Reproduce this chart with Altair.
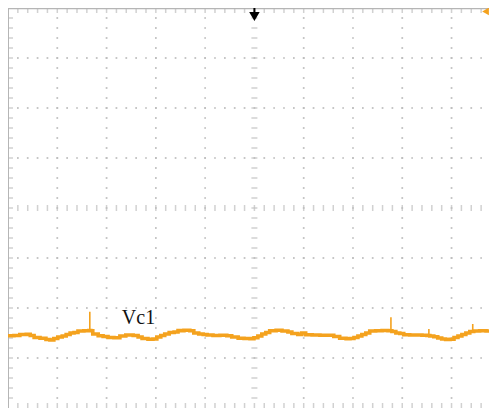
import altair as alt
import numpy as np
import pandas as pd

# ---- trace data (time in divisions, voltage in divisions from bottom) ----
trace_t = [0.00, 0.12, 0.24, 0.37, 0.45, 0.53, 0.65, 0.77, 0.85, 0.93, 1.01, 1.10, 1.18, 1.26, 1.34, 1.42,
           1.54, 1.64, 1.68, 1.72, 1.83, 1.93, 2.03, 2.15, 2.27, 2.39, 2.54, 2.64, 2.72, 2.84, 2.94, 3.02,
           3.10, 3.18, 3.27, 3.37, 3.45, 3.57, 3.69, 3.77, 3.87, 3.96, 4.04, 4.16, 4.30, 4.44, 4.54, 4.67,
           4.79, 4.91, 4.99, 5.07, 5.15, 5.23, 5.31, 5.44, 5.56, 5.68, 5.76, 5.88, 5.96, 6.04, 6.17, 6.33,
           6.49, 6.61, 6.73, 6.86, 6.94, 7.02, 7.10, 7.18, 7.26, 7.34, 7.46, 7.59, 7.71, 7.79, 7.87, 7.95,
           8.03, 8.15, 8.28, 8.40, 8.50, 8.56, 8.64, 8.72, 8.80, 8.88, 8.97, 9.05, 9.13, 9.21, 9.29, 9.37,
           9.45, 9.57, 9.70, 9.82, 9.92]
trace_v = [1.446, 1.45, 1.47, 1.474, 1.45, 1.41, 1.394, 1.37, 1.36, 1.39, 1.42, 1.44, 1.47, 1.50, 1.51, 1.54,
           1.544, 1.548, 1.544, 1.48, 1.446, 1.43, 1.41, 1.404, 1.44, 1.46, 1.45, 1.42, 1.39, 1.376, 1.38, 1.42,
           1.45, 1.48, 1.51, 1.52, 1.548, 1.554, 1.544, 1.50, 1.48, 1.47, 1.46, 1.45, 1.454, 1.444, 1.42, 1.396,
           1.39, 1.388, 1.404, 1.44, 1.48, 1.51, 1.544, 1.554, 1.54, 1.52, 1.49, 1.47, 1.50, 1.464, 1.46, 1.456,
           1.454, 1.43, 1.396, 1.384, 1.39, 1.41, 1.44, 1.47, 1.50, 1.54, 1.546, 1.55, 1.544, 1.53, 1.50, 1.49,
           1.464, 1.46, 1.46, 1.456, 1.45, 1.44, 1.424, 1.40, 1.38, 1.37, 1.376, 1.41, 1.44, 1.47, 1.50, 1.53,
           1.54, 1.544, 1.54, 1.536, 1.54]

# ---- spikes on the trace ----
spike_t = [1.66, 7.77, 8.54, 9.43, 9.88]
spike_top = [1.926, 1.814, 1.58, 1.68, 1.96]
spike_base = [1.54, 1.54, 1.45, 1.54, 1.54]

# ---- label ----
label_text = ["Vc1"]
label_t = [2.31]
label_v = [1.69]

# ---- screen graticule ----
n_div_x = 10
n_div_y = 8
minor_step = 0.2
x_max = 9.76   # visible part of the 10-division screen

COL_TRACE = "#F4A21E"
COL_GRID = "#bdbdbd"

xs = alt.Scale(domain=[0, x_max], nice=False, zero=False)
ys = alt.Scale(domain=[0, n_div_y], nice=False, zero=False)

minor_x = np.round(np.arange(minor_step, x_max, minor_step), 2)
minor_y = np.round(np.arange(minor_step, n_div_y, minor_step), 2)

# dotted major grid lines
dots = []
for gx in range(1, n_div_x):
    if gx == n_div_x // 2:
        continue
    for yv in minor_y:
        dots.append({"x": gx, "y": float(yv)})
for gy in range(1, n_div_y):
    if gy == n_div_y // 2:
        continue
    for xv in minor_x:
        dots.append({"x": float(xv), "y": gy})
dots_df = pd.DataFrame(dots)

dot_layer = alt.Chart(dots_df).mark_square(size=3, color=COL_GRID, opacity=1).encode(
    x=alt.X("x:Q", scale=xs, axis=None), y=alt.Y("y:Q", scale=ys, axis=None))

# center vertical line ticks (horizontal dashes)
cv_df = pd.DataFrame({"x": n_div_x / 2, "y": minor_y})
cv_layer = alt.Chart(cv_df).mark_tick(orient="horizontal", size=6, thickness=1.5, color=COL_GRID).encode(
    x=alt.X("x:Q", scale=xs, axis=None), y=alt.Y("y:Q", scale=ys, axis=None))

# center horizontal line ticks (vertical dashes)
ch_df = pd.DataFrame({"x": minor_x, "y": n_div_y / 2})
ch_layer = alt.Chart(ch_df).mark_tick(orient="vertical", size=6, thickness=1.5, color=COL_GRID).encode(
    x=alt.X("x:Q", scale=xs, axis=None), y=alt.Y("y:Q", scale=ys, axis=None))

# edge ticks
top_df = pd.DataFrame({"x": minor_x, "y": float(n_div_y)})
top_layer = alt.Chart(top_df).mark_tick(orient="vertical", size=5, thickness=1.5, color=COL_GRID, yOffset=2.5).encode(
    x=alt.X("x:Q", scale=xs, axis=None), y=alt.Y("y:Q", scale=ys, axis=None))
bot_df = pd.DataFrame({"x": minor_x, "y": 0.0})
bot_layer = alt.Chart(bot_df).mark_tick(orient="vertical", size=5, thickness=1.5, color=COL_GRID, yOffset=-2.5).encode(
    x=alt.X("x:Q", scale=xs, axis=None), y=alt.Y("y:Q", scale=ys, axis=None))
left_df = pd.DataFrame({"x": 0.0, "y": minor_y})
left_layer = alt.Chart(left_df).mark_tick(orient="horizontal", size=5, thickness=1.5, color=COL_GRID, xOffset=2.5).encode(
    x=alt.X("x:Q", scale=xs, axis=None), y=alt.Y("y:Q", scale=ys, axis=None))

# borders (top and left)
border_top = alt.Chart(pd.DataFrame({"y": [float(n_div_y)]})).mark_rule(color="#b5b5b5", strokeWidth=2.5).encode(
    y=alt.Y("y:Q", scale=ys, axis=None))
border_left = alt.Chart(pd.DataFrame({"x": [0.0]})).mark_rule(color="#b5b5b5", strokeWidth=2).encode(
    x=alt.X("x:Q", scale=xs, axis=None))

# trace
trace_df = pd.DataFrame({"t": trace_t, "v": trace_v})
trace_layer = alt.Chart(trace_df).mark_line(color=COL_TRACE, strokeWidth=3.6, interpolate="step-after",
                                            clip=True).encode(
    x=alt.X("t:Q", scale=xs, axis=None), y=alt.Y("v:Q", scale=ys, axis=None))

spike_df = pd.DataFrame({"t": spike_t, "top": spike_top, "base": spike_base})
spike_layer = alt.Chart(spike_df).mark_rule(color=COL_TRACE, strokeWidth=1.6, clip=True).encode(
    x=alt.X("t:Q", scale=xs, axis=None), y=alt.Y("base:Q", scale=ys, axis=None), y2="top:Q")

# label
label_df = pd.DataFrame({"t": label_t, "v": label_v, "txt": label_text})
label_layer = alt.Chart(label_df).mark_text(font="Liberation Serif", fontSize=20, color="#111111",
                                            align="left", baseline="alphabetic").encode(
    x=alt.X("t:Q", scale=xs, axis=None), y=alt.Y("v:Q", scale=ys, axis=None), text="txt:N")

# trigger position arrow (top center)
trig_df = pd.DataFrame({"x": [n_div_x / 2], "y": [7.83], "y0": [float(n_div_y)]})
trig_stem = alt.Chart(trig_df).mark_rule(color="black", strokeWidth=2).encode(
    x=alt.X("x:Q", scale=xs, axis=None), y=alt.Y("y0:Q", scale=ys, axis=None), y2="y:Q")
trig_head = alt.Chart(trig_df).mark_point(shape="triangle-down", size=110, filled=True, color="black", opacity=1).encode(
    x=alt.X("x:Q", scale=xs, axis=None), y=alt.Y("y:Q", scale=ys, axis=None))

# trigger level marker at the right edge of the screen
lvl_df = pd.DataFrame({"x": [x_max - 0.07], "y": [7.93]})
lvl_layer = alt.Chart(lvl_df).mark_point(shape="triangle-left", size=60, filled=True, color=COL_TRACE, opacity=1).encode(
    x=alt.X("x:Q", scale=xs, axis=None), y=alt.Y("y:Q", scale=ys, axis=None))

chart = alt.layer(
    dot_layer, cv_layer, ch_layer, top_layer, bot_layer, left_layer,
    border_top, border_left,
    trace_layer, spike_layer, label_layer,
    trig_stem, trig_head, lvl_layer,
).properties(
    width=481, height=400, padding=0, background="white",
    autosize=alt.AutoSizeParams(type="none"),
).configure_view(stroke=None)

chart.save("out.html", embed_options={"renderer": "svg", "actions": False})
